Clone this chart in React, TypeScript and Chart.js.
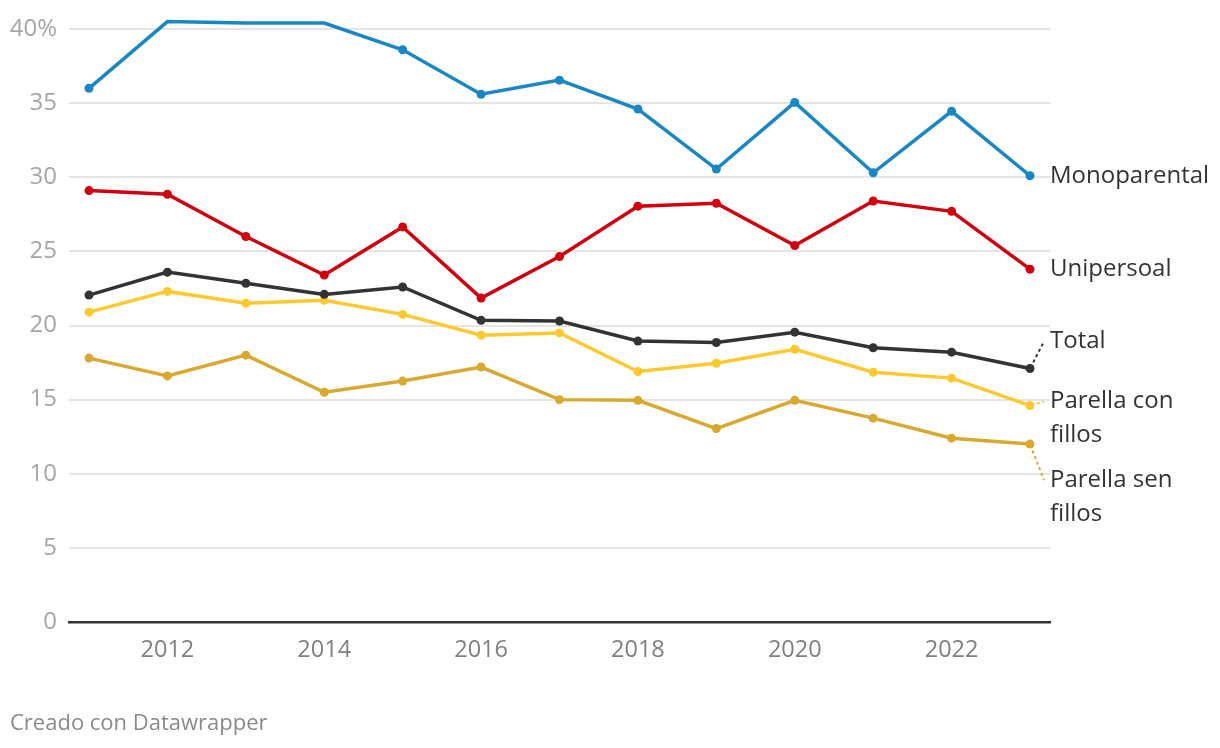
import { useEffect, useRef } from "react";
import { Chart, registerables } from "chart.js";

Chart.register(...registerables);

const years = [2011, 2012, 2013, 2014, 2015, 2016, 2017, 2018, 2019, 2020, 2021, 2022, 2023];
const monoparental = [36.0, 40.5, 40.4, 40.4, 38.6, 35.6, 36.55, 34.6, 30.55, 35.05, 30.3, 34.45, 30.1];
const unipersoal = [29.1, 28.85, 26.0, 23.4, 26.65, 21.85, 24.65, 28.05, 28.25, 25.4, 28.4, 27.7, 23.8];
const total = [22.05, 23.6, 22.85, 22.1, 22.6, 20.35, 20.3, 18.95, 18.85, 19.55, 18.5, 18.2, 17.1];
const parellaConFillos = [20.9, 22.3, 21.5, 21.7, 20.75, 19.35, 19.5, 16.9, 17.45, 18.4, 16.85, 16.45, 14.6];
const parellaSenFillos = [17.8, 16.6, 18.0, 15.5, 16.25, 17.2, 15.0, 14.95, 13.05, 14.95, 13.75, 12.4, 12.0];

const seriesNames = ["Monoparental", "Unipersoal", "Total", "Parella con fillos", "Parella sen fillos"];
const seriesLabelLines = [["Monoparental"], ["Unipersoal"], ["Total"], ["Parella con", "fillos"], ["Parella sen", "fillos"]];
const seriesColors = ["#1a87c5", "#d0000f", "#333333", "#fdc92f", "#d8a92e"];
const labelShift = [0, 0, -27, -4, 36];

const xTickYears = [2012, 2014, 2016, 2018, 2020, 2022];
const footerText = "Creado con Datawrapper";

const FONT = '"Open Sans", "Noto Sans", sans-serif';

const endLabels = {
  id: "endLabels",
  afterDatasetsDraw(chart: any) {
    const ctx = chart.ctx;
    const x0 = chart.chartArea.right;
    ctx.save();
    chart.data.datasets.forEach((ds: any, i: number) => {
      const meta = chart.getDatasetMeta(i);
      const pt = meta.data[meta.data.length - 1];
      const y0 = pt.y + labelShift[i];
      if (Math.abs(labelShift[i]) > 2) {
        const ex = x0 - 6;
        const ey = y0;
        const dx = ex - pt.x;
        const dy = ey - pt.y;
        const len = Math.sqrt(dx * dx + dy * dy);
        const sx = pt.x + (dx / len) * 7;
        const sy = pt.y + (dy / len) * 7;
        ctx.beginPath();
        ctx.setLineDash([3, 3]);
        ctx.lineWidth = 2;
        ctx.strokeStyle = ds.borderColor;
        ctx.moveTo(sx, sy);
        ctx.lineTo(ex, ey);
        ctx.stroke();
        ctx.setLineDash([]);
      }
      ctx.font = `24px ${FONT}`;
      ctx.fillStyle = "#333333";
      ctx.textBaseline = "middle";
      ctx.textAlign = "left";
      seriesLabelLines[i].forEach((line, k) => {
        ctx.fillText(line, x0, y0 + k * 34);
      });
    });
    ctx.font = `22px ${FONT}`;
    ctx.fillStyle = "#8a8a8a";
    ctx.textBaseline = "middle";
    ctx.fillText(footerText, 10, 724);
    ctx.restore();
  },
};

export default function App() {
  const ref = useRef<HTMLCanvasElement>(null);
  useEffect(() => {
    document.body.style.margin = "0";
    const series = [monoparental, unipersoal, total, parellaConFillos, parellaSenFillos];
    const chart = new Chart(ref.current as HTMLCanvasElement, {
      type: "line",
      data: {
        labels: years,
        datasets: series.map((vals, i) => ({
          label: seriesNames[i],
          data: vals.map((v, k) => ({ x: years[k], y: v })),
          borderColor: seriesColors[i],
          backgroundColor: seriesColors[i],
          borderWidth: 3.5,
          pointRadius: 4.5,
          pointBorderWidth: 0,
          tension: 0,
          clip: false as any,
        })),
      },
      options: {
        animation: false,
        responsive: false,
        layout: { padding: { top: 29, right: 170, bottom: 66, left: 0 } },
        plugins: { legend: { display: false }, tooltip: { enabled: false } },
        scales: {
          x: {
            type: "linear",
            min: 2010.745,
            max: 2023.255,
            afterBuildTicks: (scale: any) => {
              scale.ticks = xTickYears.map((v) => ({ value: v }));
            },
            afterFit: (scale: any) => {
              scale.height = 60;
            },
            grid: { display: false },
            border: { display: true, color: "#333333", width: 2.5 },
            ticks: {
              color: "#808080",
              font: { family: FONT, size: 23.5 },
              padding: 6,
              maxRotation: 0,
              autoSkip: false,
              callback: (v: any) => String(v),
            },
          },
          y: {
            min: 0,
            max: 40,
            afterFit: (scale: any) => {
              scale.width = 69;
            },
            grid: { color: "#e5e5e5", lineWidth: 2, drawTicks: false },
            border: { display: false },
            ticks: {
              stepSize: 5,
              color: "#a6a6a6",
              font: { family: FONT, size: 24 },
              padding: 12,
              callback: (v: any) => (v === 40 ? "40%" : String(v)),
            },
          },
        },
      },
      plugins: [endLabels],
    });
    return () => chart.destroy();
  }, []);
  return (
    <div style={{ width: 1220, height: 748 }}>
      <canvas ref={ref} width={1220} height={748} />
    </div>
  );
}
